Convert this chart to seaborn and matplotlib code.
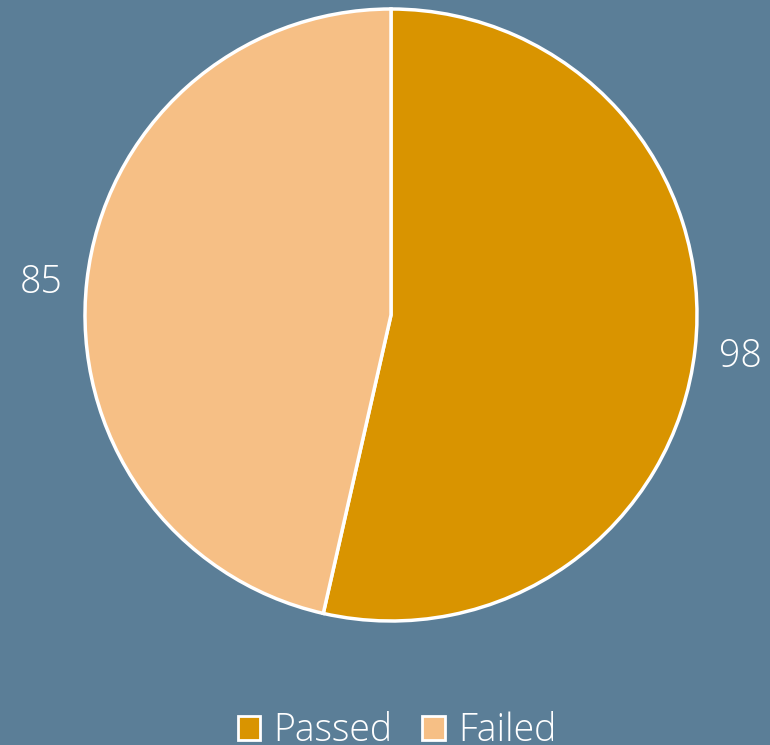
"""
Pie chart of passed vs failed counts.
"""

import matplotlib
matplotlib.use("Agg")
import matplotlib.pyplot as plt
from matplotlib.patches import Patch
import seaborn as sns

categories = ["Passed", "Failed"]
values = [98, 85]
colors = ["#d99400", "#f6bf85"]
bg = "#5b7e97"

sns.set_theme(style="white")
plt.rcParams["font.family"] = ["Open Sans", "DejaVu Sans"]

fig = plt.figure(figsize=(7.7, 7.45), dpi=100, facecolor=bg)
ax = fig.add_axes([85 / 770, 124 / 745, 612 / 770, 612 / 745])
ax.set_facecolor(bg)

wedges, texts = ax.pie(
    values,
    labels=[str(v) for v in values],
    colors=colors,
    startangle=90,
    counterclock=False,
    labeldistance=1.08,
    radius=1,
    wedgeprops={"edgecolor": "white", "linewidth": 2.5},
    textprops={"color": "white", "fontsize": 27, "fontweight": "light"},
)
# nudge labels down a touch like the reference
for t in texts:
    x, y = t.get_position()
    t.set_position((x, y - 0.015))

ax.set_xlim(-1, 1)
ax.set_ylim(-1, 1)
ax.set_aspect("equal")
ax.axis("off")

handles = [Patch(facecolor=c, edgecolor="white", linewidth=2) for c in colors]
fig.legend(
    handles,
    categories,
    loc="center",
    bbox_to_anchor=(397 / 770, 14 / 745),
    ncol=2,
    frameon=False,
    handlelength=0.6,
    handleheight=0.6,
    handletextpad=0.35,
    columnspacing=0.8,
    prop={"size": 27, "weight": "light"},
    labelcolor="white",
)

fig.savefig("out.png", dpi=100, facecolor=bg)
